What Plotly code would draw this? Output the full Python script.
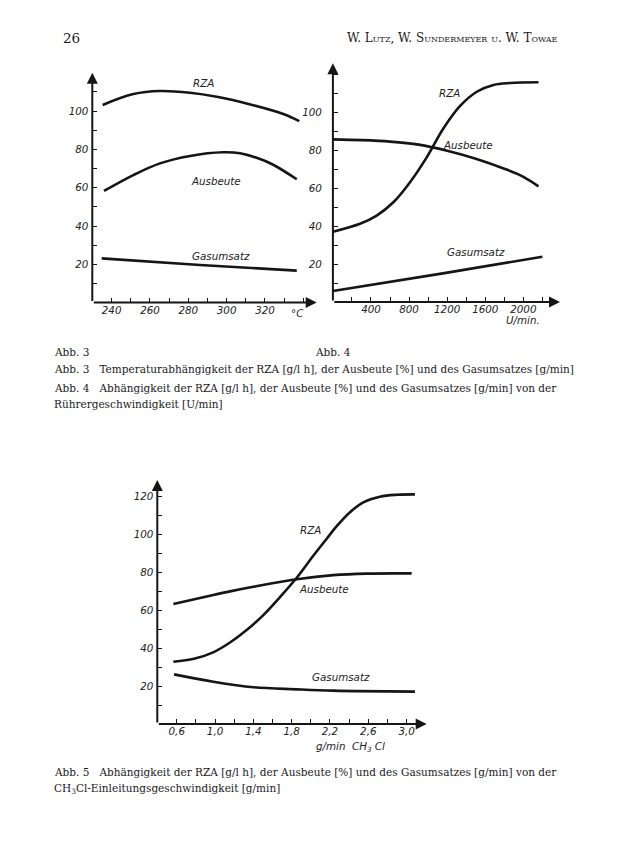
import plotly.graph_objects as go

# ---------------- data ----------------
# Abb. 3 : temperature [°C]
t3_rza = [235.3, 251.3, 265.2, 280.9, 294.8, 312.4, 329.6, 337.9]
rza3 = [103.2, 108.9, 110.5, 109.6, 107.5, 103.5, 98.5, 94.8]
t3_aus = [236.0, 251.3, 265.2, 280.9, 298.2, 307.0, 315.7, 324.3, 336.6]
aus3 = [58.3, 66.6, 72.7, 76.6, 78.5, 78.0, 75.6, 72.0, 64.4]
t3_gas = [234.8, 286.1, 336.6]
gas3 = [23.1, 19.6, 16.7]

# Abb. 4 : stirrer speed [U/min]
n4_rza = [0, 285, 460, 635, 810, 985, 1160, 1336, 1511, 1686, 1863, 2159]
rza4 = [37.1, 41.3, 45.6, 52.6, 63.2, 76.3, 91.5, 103.4, 110.9, 114.5, 115.5, 115.9]
n4_aus = [0, 300, 600, 900, 1200, 1500, 1800, 2000, 2159]
aus4 = [85.8, 85.4, 84.6, 83.0, 79.8, 75.6, 70.3, 66.0, 61.0]
n4_gas = [0, 1155, 2200]
gas4 = [5.8, 15.1, 23.9]

# Abb. 5 : CH3Cl feed [g/min]
c5_rza = [0.565, 0.78, 0.98, 1.156, 1.33, 1.504, 1.678, 1.853, 2.026, 2.166, 2.27, 2.409, 2.548, 2.722, 2.9, 3.087]
rza5 = [32.9, 34.4, 37.8, 43.0, 49.6, 57.5, 67.0, 77.2, 88.8, 97.8, 104.4, 111.8, 117.0, 120.0, 121.0, 121.2]
c5_aus = [0.565, 0.982, 1.156, 1.4, 1.853, 2.235, 2.583, 3.053]
aus5 = [63.3, 68.1, 70.0, 72.4, 76.4, 78.6, 79.4, 79.5]
c5_gas = [0.572, 0.982, 1.400, 1.853, 2.235, 3.087]
gas5 = [26.2, 22.3, 19.4, 18.3, 17.6, 17.1]

# tick labels
x3_ticks = [240, 260, 280, 300, 320]
x3_minor = [230, 250, 270, 290, 310, 330, 340]
y3_ticks = [20, 40, 60, 80, 100]
y3_minor = [10, 30, 50, 70, 90, 110]

x4_ticks = [400, 800, 1200, 1600, 2000]
x4_minor = [200, 600, 1000, 1400, 1800, 2200]
y4_ticks = [20, 40, 60, 80, 100]
y4_minor = [10, 30, 50, 70, 90, 110, 120]

x5_ticks = [0.6, 1.0, 1.4, 1.8, 2.2, 2.6, 3.0]
x5_text = ["0,6", "1,0", "1,4", "1,8", "2,2", "2,6", "3,0"]
x5_minor = [0.8, 1.2, 1.6, 2.0, 2.4, 2.8]
y5_ticks = [20, 40, 60, 80, 100, 120]
y5_minor = [10, 30, 50, 70, 90, 110]

# ---------------- figure ----------------
W, H = 624, 864
INK = "#151515"
LBL = dict(family="DejaVu Sans", size=10.3, color="#222222", style="italic")
SERIF = "DejaVu Serif"


def px_x(p):
    return p / W


def px_y(p):
    return 1 - p / H


fig = go.Figure()

def curve(x, y, xa, ya):
    fig.add_trace(go.Scatter(x=x, y=y, xaxis=xa, yaxis=ya, mode="lines",
                             line=dict(color=INK, width=2.6, shape="spline", smoothing=1.0),
                             hoverinfo="skip", showlegend=False))

curve(t3_rza, rza3, "x", "y")
curve(t3_aus, aus3, "x", "y")
curve(t3_gas, gas3, "x", "y")
curve(n4_rza, rza4, "x2", "y2")
curve(n4_aus, aus4, "x2", "y2")
curve(n4_gas, gas4, "x2", "y2")
curve(c5_rza, rza5, "x3", "y3")
curve(c5_aus, aus5, "x3", "y3")
curve(c5_gas, gas5, "x3", "y3")

common = dict(showgrid=False, zeroline=False, showline=False, ticks="inside",
              ticklen=5, tickwidth=1.3, tickcolor=INK, tickfont=LBL, fixedrange=True)


def minor(vals):
    return dict(tickmode="array", tickvals=vals, ticks="inside", ticklen=5,
                tickwidth=1.3, tickcolor=INK, showgrid=False)


fig.update_layout(
    width=W, height=H, autosize=False,
    margin=dict(l=0, r=0, t=0, b=0),
    paper_bgcolor="white", plot_bgcolor="rgba(0,0,0,0)",
    xaxis=dict(domain=[px_x(92.3), px_x(316.7)], range=[229.9, 347.0], anchor="y",
               tickmode="array", tickvals=x3_ticks, minor=minor(x3_minor), **common),
    yaxis=dict(domain=[px_y(302.6), px_y(72.8)], range=[0, 120], anchor="x",
               tickmode="array", tickvals=y3_ticks, minor=minor(y3_minor),
               ticklabelstandoff=3, **common),
    xaxis2=dict(domain=[px_x(332.9), px_x(560)], range=[0, 2385], anchor="y2",
                tickmode="array", tickvals=x4_ticks, minor=minor(x4_minor), **common),
    yaxis2=dict(domain=[px_y(302), px_y(63.3)], range=[0, 125.9], anchor="x2",
                tickmode="array", tickvals=y4_ticks, minor=minor(y4_minor),
                ticklabelstandoff=10, **common),
    xaxis3=dict(domain=[px_x(157.3), px_x(426.7)], range=[0.397, 3.21], anchor="y3",
                tickmode="array", tickvals=x5_ticks, ticktext=x5_text,
                minor=minor(x5_minor), **common),
    yaxis3=dict(domain=[px_y(724), px_y(480)], range=[0, 128.8], anchor="x3",
                tickmode="array", tickvals=y5_ticks, minor=minor(y5_minor),
                ticklabelstandoff=3, **common),
)

ann = []

# axis lines with arrowheads
for xa, ya in [("x", "y"), ("x2", "y2"), ("x3", "y3")]:
    for (x0, y0, x1, y1) in [(0, 0, 1, 0), (0, 0, 0, 1)]:
        ann.append(dict(xref=f"{xa} domain", yref=f"{ya} domain",
                        axref=f"{xa} domain", ayref=f"{ya} domain",
                        x=x1, y=y1, ax=x0, ay=y0, text="", showarrow=True,
                        arrowhead=2, arrowsize=1.1, arrowwidth=2.0, arrowcolor=INK,
                        standoff=0, startstandoff=0))

# curve labels
def lab(text, x, y, xa, ya):
    ann.append(dict(xref=xa, yref=ya, x=x, y=y, text=text, showarrow=False,
                    font=LBL, xanchor="center", yanchor="middle"))

lab("RZA", 287.8, 114.8, "x", "y")
lab("Ausbeute", 294.2, 63.7, "x", "y")
lab("Gasumsatz", 296.9, 24.3, "x", "y")
lab("RZA", 1226, 110.5, "x2", "y2")
lab("Ausbeute", 1414, 83.0, "x2", "y2")
lab("Gasumsatz", 1505, 26.5, "x2", "y2")
lab("RZA", 1.993, 102.4, "x3", "y3")
lab("Ausbeute", 2.14, 71.2, "x3", "y3")
lab("Gasumsatz", 2.317, 24.6, "x3", "y3")

# unit labels at the axes
def ptext(text, x, y, font, xanchor="left", yanchor="middle"):
    ann.append(dict(xref="paper", yref="paper", x=px_x(x), y=px_y(y), text=text,
                    showarrow=False, font=font, xanchor=xanchor, yanchor=yanchor))

ptext("°C", 297, 312.5, LBL, xanchor="center")
ptext("U/min.", 523, 320, LBL, xanchor="center")
ptext("g/min  CH<sub>3</sub> Cl", 350, 747, LBL, xanchor="center")

# page text
HDR = dict(family=SERIF, size=13.5, color="#1a1a1a")
ptext("26", 61, 38, HDR)
ptext("W. Lutz, W. Sundermeyer u. W. Towae", 560, 38,
      dict(family=SERIF, size=12, color="#1a1a1a", variant="small-caps"), xanchor="right")

CAP = dict(family=SERIF, size=10.5, color="#1a1a1a")
ptext("Abb. 3", 52, 352, CAP)
ptext("Abb. 4", 313, 352, CAP)
ptext("Abb. 3   Temperaturabhängigkeit der RZA [g/l h], der Ausbeute [%] und des Gasumsatzes [g/min]",
      52, 369, CAP)
ptext("Abb. 4   Abhängigkeit der RZA [g/l h], der Ausbeute [%] und des Gasumsatzes [g/min] von der",
      52, 388, CAP)
ptext("Rührergeschwindigkeit [U/min]", 52, 404, CAP)
ptext("Abb. 5   Abhängigkeit der RZA [g/l h], der Ausbeute [%] und des Gasumsatzes [g/min] von der",
      52, 772, CAP)
ptext("CH<sub>3</sub>Cl-Einleitungsgeschwindigkeit [g/min]", 52, 789, CAP)

fig.update_layout(annotations=ann)
fig.write_html("out.html", config={"displayModeBar": False},
               post_script="document.body.style.margin='0';document.body.style.padding='0';")
